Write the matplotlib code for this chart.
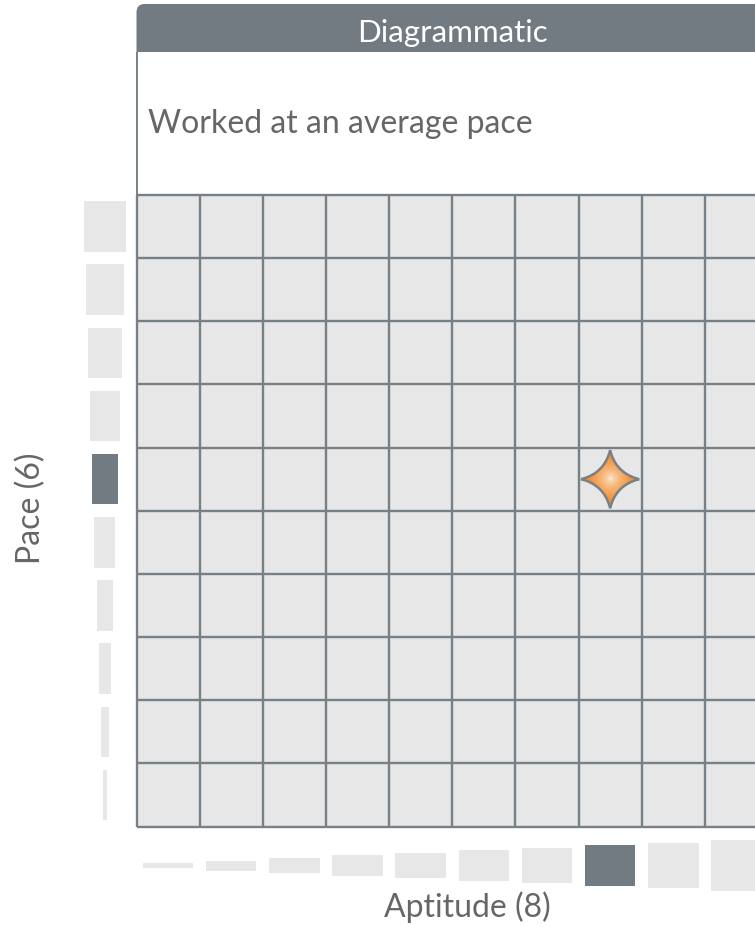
import numpy as np
import matplotlib.pyplot as plt
from matplotlib.patches import Rectangle, Polygon, FancyBboxPatch

# chart content
title = "Diagrammatic"
description = "Worked at an average pace"
aptitude_levels = [1, 2, 3, 4, 5, 6, 7, 8, 9, 10]
pace_levels = [1, 2, 3, 4, 5, 6, 7, 8, 9, 10]
aptitude_score = 8
pace_score = 6
x_label = f"Aptitude ({aptitude_score})"
y_label = f"Pace ({pace_score})"

# colours
dark = "#737b82"
light = "#e6e7e6"
line_col = "#778087"
text_col = "#666666"

plt.rcParams['font.family'] = ['Lato', 'DejaVu Sans']

# one axes over the whole figure, units = grid cells (63.15 px each)
cell = 63.15
x0, y0 = 136.5, 827.5
fig = plt.figure(figsize=(7.55, 9.28), dpi=100)
ax = fig.add_axes([0, 0, 1, 1])
ax.axis('off')

n = len(aptitude_levels)

# header bar (rounded top-left corner)
head_bot = 12.264
head_top = 13.025
ax.add_patch(FancyBboxPatch((0, head_bot - 0.3), 12, head_top - head_bot + 0.3,
                            boxstyle="round,pad=0,rounding_size=0.13",
                            fc=dark, ec='none', zorder=2))
ax.add_patch(Rectangle((-0.05, n), 12, head_bot - n, fc='white', ec='none', zorder=3))
ax.vlines(0, n, head_bot, color=line_col, lw=1.4, zorder=4)
ax.text(n / 2, 12.443, title, color='white', fontsize=22.5, ha='center', va='baseline', zorder=5)
ax.text(0.187, 10.993, description, color=text_col, fontsize=23, ha='left', va='baseline', zorder=5)

# grid
ax.add_patch(Rectangle((0, 0), n, n, fc=light, ec='none', zorder=1))
ax.vlines(np.arange(n + 1), 0, n, color=line_col, lw=1.7, zorder=4)
ax.hlines(np.arange(n + 1), 0, n, color=line_col, lw=1.7, zorder=4)

# pace bars on the left
for p in pace_levels:
    w = 0.0665 * p
    c = dark if p == pace_score else light
    ax.add_patch(Rectangle((-0.5 - w / 2, p - 0.9), w, 0.8, fc=c, ec='none'))

# aptitude bars at the bottom
for a in aptitude_levels:
    h = 0.0795 * a
    c = dark if a == aptitude_score else light
    ax.add_patch(Rectangle((a - 0.9, -0.618 - h / 2), 0.8, h, fc=c, ec='none'))

ax.text(5.24, -1.413, x_label, color=text_col, fontsize=23, ha='center', va='baseline')
ax.text(-1.67, 5.06, y_label, color=text_col, fontsize=23, ha='center', va='center', rotation=90)

# star marker: four tips joined by concave curves, filled with a radial gradient
cx, cy = aptitude_score - 0.5, pace_score - 0.5
R, ctrl = 0.46, 0.13
t = np.linspace(0, 1, 30)[:, None]
pts = []
for k in range(4):
    a1 = np.pi / 2 - k * np.pi / 2
    a2 = a1 - np.pi / 2
    am = (a1 + a2) / 2
    A = np.array([R * np.cos(a1), R * np.sin(a1)])
    B = np.array([R * np.cos(a2), R * np.sin(a2)])
    C = np.array([ctrl * np.cos(am), ctrl * np.sin(am)])
    seg = (1 - t) ** 2 * A + 2 * (1 - t) * t * C + t ** 2 * B
    pts.append(seg[:-1])
pts = np.vstack(pts) + [cx, cy]
star = Polygon(pts, closed=True, fc='none', ec='#7b8086', lw=1.8, zorder=7)
ax.add_patch(star)
gx, gy = np.meshgrid(np.linspace(-1, 1, 200), np.linspace(-1, 1, 200))
dist = np.clip(np.sqrt(gx ** 2 + gy ** 2) / 0.75, 0, 1)
c0 = np.array([1.0, 0.99, 0.97])
c1 = np.array([0.95, 0.56, 0.20])
img = c0 + (c1 - c0) * dist[..., None] ** 0.5
im = ax.imshow(img, extent=[cx - R, cx + R, cy - R, cy + R], origin='lower',
               zorder=6, interpolation='bilinear')
im.set_clip_path(star)

ax.set_xlim(-x0 / cell, (755 - x0) / cell)
ax.set_ylim((y0 - 928) / cell, y0 / cell)
ax.set_aspect('auto')

plt.savefig("out.png", dpi=100)
